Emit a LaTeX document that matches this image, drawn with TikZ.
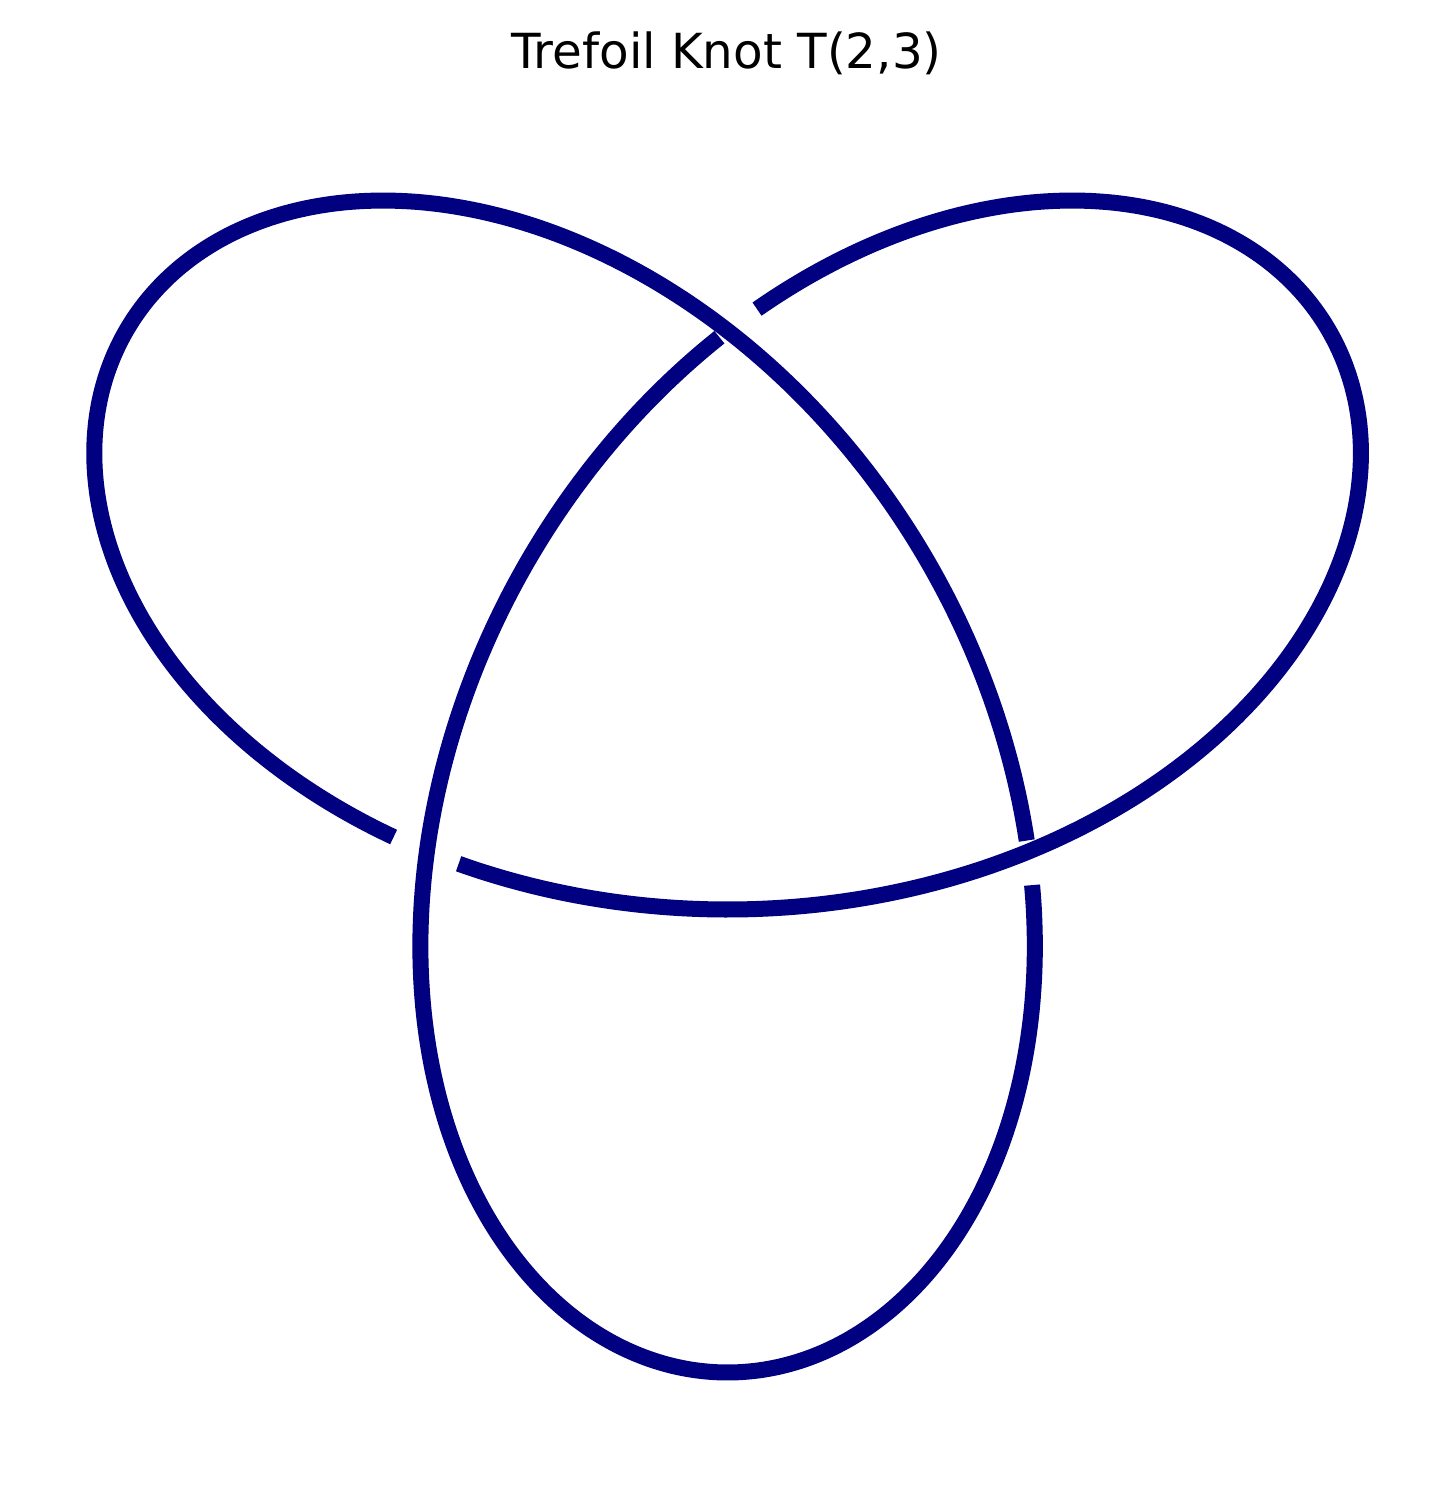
\documentclass[tikz,border=0pt]{standalone}
\usepackage{fontspec}
\setmainfont{DejaVu Sans}
\definecolor{knotblue}{RGB}{0,0,128}
\begin{document}
\begin{tikzpicture}[x=0.01cm,y=-0.01cm,
  knot/.style={draw=knotblue, line width=0.16cm, line cap=butt, line join=round},
  titletext/.style={font=\fontsize{13.75pt}{16pt}\selectfont, anchor=base, inner sep=0pt}]
\useasboundingbox (0,0) rectangle (1455,1509);
\fill[white] (0,0) rectangle (1455,1509);
\node[titletext] (title) at (726.5,68) {Trefoil Knot T(2,3)};
\draw[knot] plot[domain=-13.76:102.56, samples=300, variable=\t]
  ({727.6+231.5*(sin(\t)+2*sin(2*\t))}, {678-231.5*(cos(\t)-2*cos(2*\t))});
\draw[knot] plot[domain=105.02:222.71, samples=300, variable=\t]
  ({727.6+231.5*(sin(\t)+2*sin(2*\t))}, {678-231.5*(cos(\t)-2*cos(2*\t))});
\draw[knot] plot[domain=225.06:342.57, samples=300, variable=\t]
  ({727.6+231.5*(sin(\t)+2*sin(2*\t))}, {678-231.5*(cos(\t)-2*cos(2*\t))});
\end{tikzpicture}
\end{document}
